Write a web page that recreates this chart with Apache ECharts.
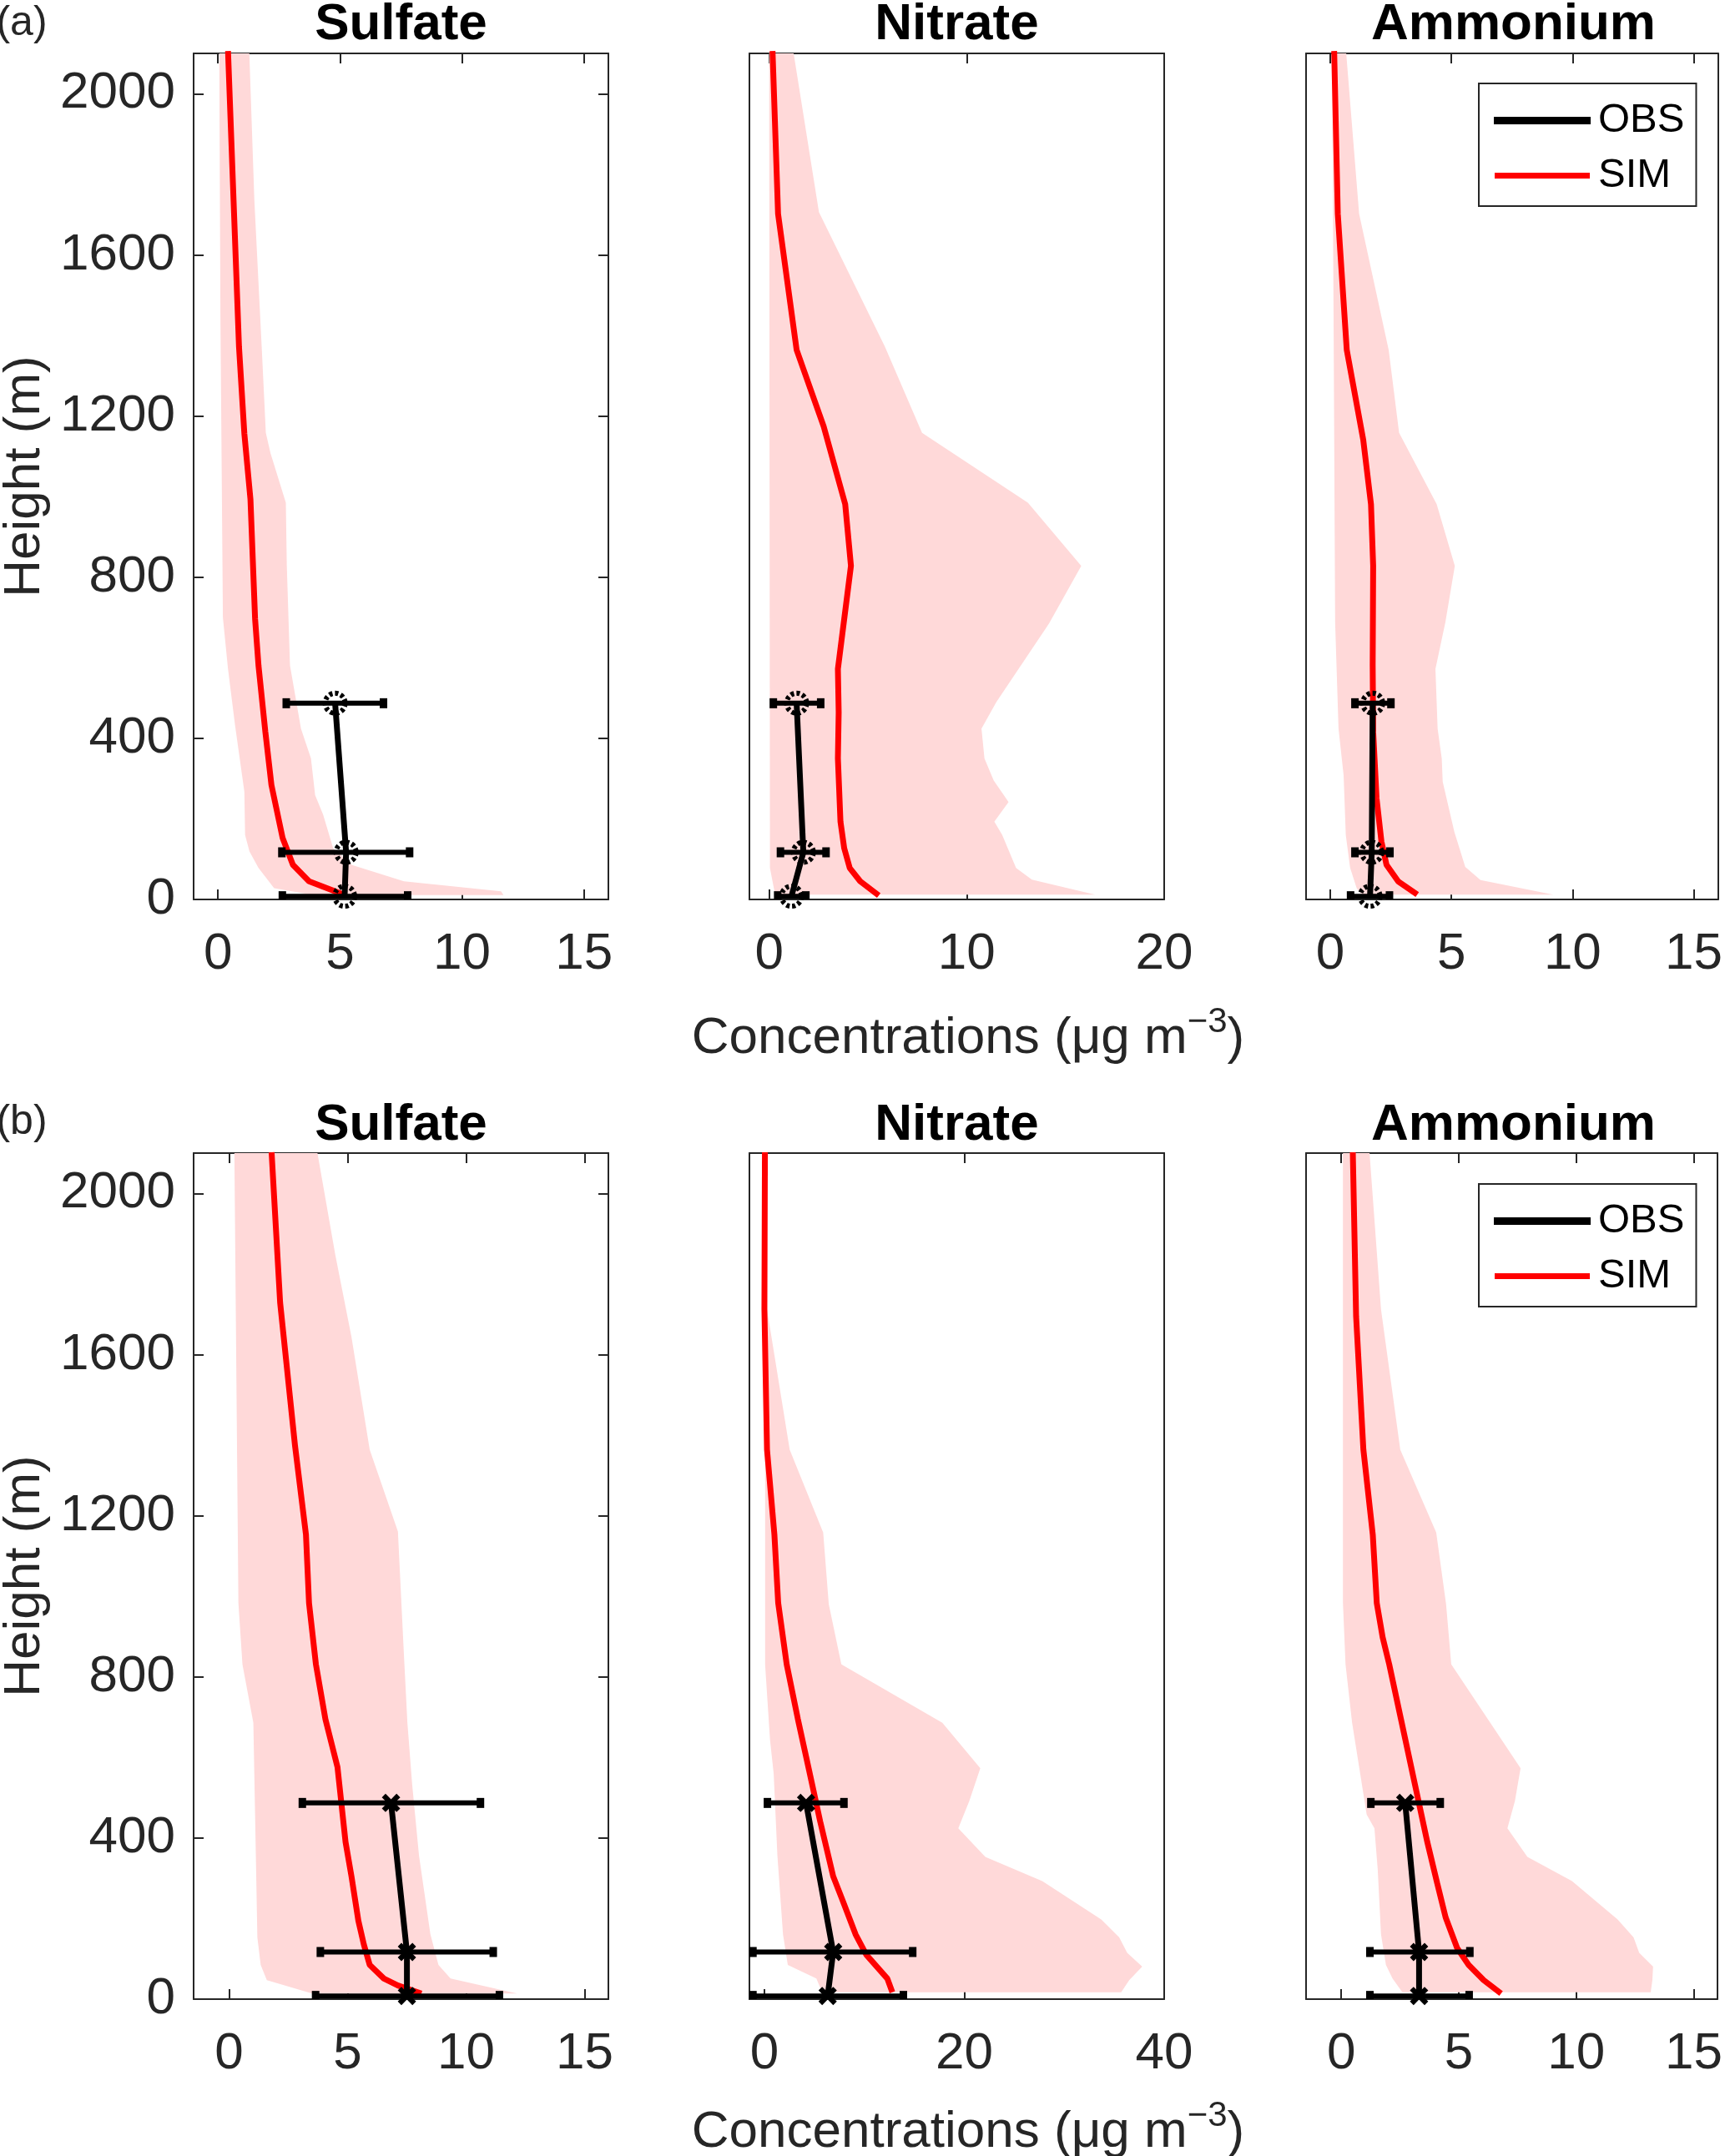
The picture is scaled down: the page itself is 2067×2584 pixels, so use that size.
<!DOCTYPE html>
<html>
<head>
<meta charset="utf-8">
<title>Vertical profiles of sulfate, nitrate and ammonium</title>
<script src="https://cdn.jsdelivr.net/npm/echarts@6/dist/echarts.min.js"></script>
<style>
  html, body { margin: 0; padding: 0; background: #fff; }
  #chart { width: 2067px; height: 2584px; }
</style>
</head>
<body>
<div id="chart"></div>
<script>
// ---------------- data ----------------
var species = ['Sulfate', 'Nitrate', 'Ammonium'];
var yTicks = [0, 400, 800, 1200, 1600, 2000];
var obsHeight = [487, 117, 8];

// (a) Sulfate
var aSO4_simH = [2106, 1372, 1156, 993, 696, 580, 416, 284, 152, 86, 45, 20, 11];
var aSO4_sim  = [0.41, 0.86, 1.08, 1.33, 1.52, 1.66, 1.94, 2.19, 2.65, 3.07, 3.73, 4.8, 5.2];
var aSO4_minH = [2106, 1440, 700, 572, 432, 267, 160, 119, 78, 28, 11];
var aSO4_min  = [0.05, 0.1, 0.2, 0.41, 0.7, 1.08, 1.11, 1.29, 1.66, 2.3, 3.9];
var aSO4_maxH = [2106, 1735, 1372, 1158, 1108, 985, 828, 581, 424, 350, 259, 210, 127, 86, 45, 20, 11];
var aSO4_max  = [1.28, 1.49, 1.79, 1.96, 2.15, 2.78, 2.82, 2.95, 3.4, 3.81, 3.98, 4.31, 4.72, 5.47, 7.62, 11.6, 11.7];
var aSO4_obs  = [4.8, 5.25, 5.19];
var aSO4_lo   = [2.78, 2.6, 2.62];
var aSO4_hi   = [6.8, 7.87, 7.79];

// (a) Nitrate
var aNO3_simH = [2106, 1702, 1364, 1174, 981, 828, 572, 465, 350, 193, 127, 78, 45, 10];
var aNO3_sim  = [0.17, 0.45, 1.39, 2.76, 3.85, 4.14, 3.48, 3.52, 3.48, 3.61, 3.8, 4.08, 4.61, 5.55];
var aNO3_minH = [2106, 78, 45, 12];
var aNO3_min  = [0.0, 0.04, 0.17, 0.3];
var aNO3_maxH = [2106, 1706, 1372, 1158, 985, 828, 685, 490, 424, 350, 295, 242, 193, 160, 78, 49, 12];
var aNO3_max  = [1.22, 2.52, 5.86, 7.74, 13.1, 15.8, 14.17, 11.5, 10.75, 10.9, 11.37, 12.12, 11.4, 11.8, 12.5, 13.3, 16.5];
var aNO3_obs  = [1.39, 1.73, 1.13];
var aNO3_lo   = [0.19, 0.55, 0.41];
var aNO3_hi   = [2.63, 2.9, 1.88];

// (a) Ammonium
var aNH4_simH = [2106, 1702, 1364, 1141, 981, 828, 581, 416, 251, 144, 86, 45, 12];
var aNH4_sim  = [0.16, 0.31, 0.68, 1.36, 1.68, 1.77, 1.75, 1.77, 1.91, 2.11, 2.32, 2.8, 3.59];
var aNH4_minH = [2106, 1400, 688, 424, 308, 160, 78, 28, 12];
var aNH4_min  = [0.07, 0.14, 0.2, 0.34, 0.55, 0.64, 0.82, 1.09, 1.3];
var aNH4_maxH = [2106, 1702, 1364, 1158, 981, 828, 688, 572, 424, 350, 292, 168, 81, 48, 12];
var aNH4_max  = [0.65, 1.19, 2.41, 2.84, 4.39, 5.14, 4.75, 4.34, 4.43, 4.6, 4.64, 5.12, 5.57, 6.2, 9.2];
var aNH4_obs  = [1.75, 1.71, 1.64];
var aNH4_lo   = [1.0, 1.0, 0.82];
var aNH4_hi   = [2.52, 2.48, 2.46];

// (b) Sulfate
var bSO4_simH = [2102, 1729, 1373, 1153, 983, 831, 695, 576, 390, 305, 195, 136, 85, 51, 34, 14];
var bSO4_sim  = [1.79, 2.15, 2.78, 3.24, 3.37, 3.66, 4.06, 4.57, 4.91, 5.16, 5.45, 5.68, 5.93, 6.53, 7.12, 8.11];
var bSO4_minH = [2102, 983, 831, 686, 407, 153, 85, 47, 14];
var bSO4_min  = [0.22, 0.39, 0.56, 1.02, 1.11, 1.19, 1.33, 1.59, 3.5];
var bSO4_maxH = [2102, 1847, 1644, 1364, 1161, 847, 686, 534, 356, 161, 85, 51, 14];
var bSO4_max  = [3.72, 4.48, 5.16, 5.93, 7.12, 7.38, 7.52, 7.72, 8.01, 8.49, 8.83, 9.34, 12.15];
var bSO4_obs  = [6.83, 7.5, 7.5];
var bSO4_lo   = [3.07, 3.83, 3.63];
var bSO4_hi   = [10.62, 11.16, 11.42];

// (b) Nitrate
var bNO3_simH = [2102, 1712, 1364, 1153, 983, 831, 695, 568, 441, 305, 246, 161, 110, 51, 17];
var bNO3_sim  = [0.05, 0.0, 0.26, 1.0, 1.38, 2.23, 3.35, 4.47, 5.58, 6.88, 7.81, 9.12, 10.2, 12.3, 12.8];
var bNO3_minH = [2102, 1712, 831, 644, 559, 356, 161, 85, 51, 17];
var bNO3_min  = [0.0, 0.07, 0.07, 0.56, 0.93, 1.3, 1.86, 2.34, 5.2, 5.77];
var bNO3_maxH = [2102, 1712, 1364, 1158, 980, 831, 686, 573, 492, 424, 353, 293, 198, 153, 115, 81, 47, 17];
var bNO3_max  = [0.2, 0.26, 2.53, 5.88, 6.44, 7.7, 17.8, 21.6, 20.5, 19.4, 22.1, 27.8, 33.7, 35.5, 36.3, 37.8, 36.5, 35.7];
var bNO3_obs  = [4.17, 6.88, 6.33];
var bNO3_lo   = [0.26, -1.19, -1.19];
var bNO3_hi   = [8.0, 14.88, 13.95];

// (b) Ammonium
var bNH4_simH = [2102, 1695, 1364, 1153, 983, 898, 831, 695, 542, 390, 288, 203, 127, 85, 47, 14];
var bNH4_sim  = [0.49, 0.63, 0.94, 1.34, 1.51, 1.76, 2.04, 2.54, 3.1, 3.66, 4.08, 4.44, 4.93, 5.42, 6.06, 6.8];
var bNH4_minH = [2102, 983, 831, 686, 458, 424, 322, 161, 85, 51, 17];
var bNH4_min  = [0.07, 0.07, 0.18, 0.46, 1.08, 1.41, 1.55, 1.69, 1.9, 2.18, 2.6];
var bNH4_maxH = [2102, 1712, 1364, 1158, 980, 831, 686, 573, 492, 424, 353, 293, 198, 153, 115, 81, 47, 17];
var bNH4_max  = [1.2, 1.69, 2.51, 4.04, 4.46, 4.68, 6.34, 7.63, 7.39, 7.07, 7.92, 9.82, 11.76, 12.44, 12.68, 13.27, 13.24, 13.17];
var bNH4_obs  = [2.72, 3.31, 3.31];
var bNH4_lo   = [1.24, 1.2, 1.2];
var bNH4_hi   = [4.23, 5.49, 5.46];

// x axis extents and ticks per panel
var xMin   = [-1, -1, -1, -1.5, -1.5, -1.5];
var xMax   = [16, 20, 16, 16, 40, 16];
var xTicks = [[0, 5, 10, 15], [0, 10, 20], [0, 5, 10, 15],
              [0, 5, 10, 15], [0, 20, 40], [0, 5, 10, 15]];

// ---------------- layout / style ----------------
var FONT = '"Liberation Sans", Arial, Helvetica, sans-serif';
var AXIS = '#262626';
var BAND = '#ffd9d9';
var gridLeft = [232, 898, 1565];
var gridTop = [64, 1382];
var gridW = 497, gridH = 1014;

var panels = [
  [aSO4_simH, aSO4_sim, aSO4_minH, aSO4_min, aSO4_maxH, aSO4_max, aSO4_obs, aSO4_lo, aSO4_hi],
  [aNO3_simH, aNO3_sim, aNO3_minH, aNO3_min, aNO3_maxH, aNO3_max, aNO3_obs, aNO3_lo, aNO3_hi],
  [aNH4_simH, aNH4_sim, aNH4_minH, aNH4_min, aNH4_maxH, aNH4_max, aNH4_obs, aNH4_lo, aNH4_hi],
  [bSO4_simH, bSO4_sim, bSO4_minH, bSO4_min, bSO4_maxH, bSO4_max, bSO4_obs, bSO4_lo, bSO4_hi],
  [bNO3_simH, bNO3_sim, bNO3_minH, bNO3_min, bNO3_maxH, bNO3_max, bNO3_obs, bNO3_lo, bNO3_hi],
  [bNH4_simH, bNH4_sim, bNH4_minH, bNH4_min, bNH4_maxH, bNH4_max, bNH4_obs, bNH4_lo, bNH4_hi]
];

function pairs(xs, hs) {
  return xs.map(function (v, i) { return [v, hs[i]]; });
}
function plain(v) { return String(v); }

var grids = [], xAxes = [], yAxes = [], series = [];

panels.forEach(function (p, k) {
  var row = k < 3 ? 0 : 1, col = k % 3;
  grids.push({ left: gridLeft[col], top: gridTop[row], width: gridW, height: gridH });

  var line = { show: true, onZero: false, lineStyle: { color: AXIS, width: 2 } };
  var tick = function (vals) {
    return { show: vals.length > 0, inside: true, length: 12, customValues: vals,
             lineStyle: { color: AXIS, width: 2 } };
  };
  // bottom + top x axes
  xAxes.push({ type: 'value', gridIndex: k, position: 'bottom', min: xMin[k], max: xMax[k],
    axisLine: line, axisTick: tick(xTicks[k]), splitLine: { show: false },
    axisLabel: { show: true, customValues: xTicks[k], margin: 35, fontSize: 62,
                 fontFamily: FONT, color: AXIS, formatter: plain } });
  xAxes.push({ type: 'value', gridIndex: k, position: 'top', min: xMin[k], max: xMax[k],
    axisLine: line, axisTick: tick(xTicks[k]), splitLine: { show: false },
    axisLabel: { show: false } });
  // left + right y axes (ticks only on the sulfate panels)
  var yt = col === 0 ? yTicks : [];
  yAxes.push({ type: 'value', gridIndex: k, position: 'left', min: 0, max: 2100,
    axisLine: line, axisTick: tick(yt), splitLine: { show: false },
    axisLabel: { show: col === 0, customValues: yTicks, margin: 22, fontSize: 62,
                 fontFamily: FONT, color: AXIS, formatter: plain } });
  yAxes.push({ type: 'value', gridIndex: k, position: 'right', min: 0, max: 2100,
    axisLine: line, axisTick: tick(yt), splitLine: { show: false },
    axisLabel: { show: false } });

  var xi = 2 * k, yi = 2 * k;

  // min-max envelope of the simulation as a polygon
  var poly = pairs(p[3], p[2]).concat(pairs(p[5], p[4]).reverse());
  series.push({
    name: 'SIM range', type: 'custom', xAxisIndex: xi, yAxisIndex: yi, clip: true, z: 1,
    silent: true, data: poly,
    renderItem: function (params, api) {
      if (params.dataIndex !== 0) return null;
      var pts = poly.map(function (d) { return api.coord(d); });
      return { type: 'polygon', shape: { points: pts }, style: { fill: BAND } };
    }
  });

  series.push({
    name: 'SIM', type: 'line', xAxisIndex: xi, yAxisIndex: yi, z: 2,
    data: pairs(p[1], p[0]), showSymbol: false, symbol: 'none',
    itemStyle: { color: '#ff0000' }, lineStyle: { color: '#ff0000', width: 7 }
  });

  // observation error bars
  var bars = p[7].map(function (lo, i) { return [lo, p[8][i], obsHeight[i]]; });
  series.push({
    name: 'OBS range', type: 'custom', xAxisIndex: xi, yAxisIndex: yi, clip: true, z: 3,
    silent: true, data: bars, encode: { x: [0, 1], y: 2 },
    renderItem: function (params, api) {
      var a = api.coord([api.value(0), api.value(2)]);
      var b = api.coord([api.value(1), api.value(2)]);
      return { type: 'group', children: [
        { type: 'line', shape: { x1: a[0], y1: a[1], x2: b[0], y2: b[1] },
          style: { stroke: '#000', lineWidth: 6 } },
        { type: 'rect', shape: { x: a[0] - 4, y: a[1] - 6, width: 9, height: 12 }, style: { fill: '#000' } },
        { type: 'rect', shape: { x: b[0] - 5, y: b[1] - 6, width: 9, height: 12 }, style: { fill: '#000' } }
      ] };
    }
  });

  series.push({
    name: 'OBS', type: 'line', xAxisIndex: xi, yAxisIndex: yi, z: 4,
    data: pairs(p[6], obsHeight),
    lineStyle: { color: '#000', width: 7 },
    symbol: row === 0 ? 'circle' : 'path://M2,0L5,3L8,0L10,2L7,5L10,8L8,10L5,7L2,10L0,8L3,5L0,2Z',
    symbolSize: row === 0 ? 24 : 22,
    itemStyle: row === 0
      ? { color: 'rgba(0,0,0,0)', borderColor: '#000', borderWidth: 6, borderType: [4, 3] }
      : { color: '#000' }
  });
});

// ---------------- texts ----------------
var graphics = [];
function txt(s, x, y, size, weight, color, rot) {
  graphics.push({ type: 'text', x: x, y: y, rotation: rot || 0, silent: true,
    style: { text: s, fontSize: size, fontWeight: weight, fontFamily: FONT, fill: color,
             align: 'center', verticalAlign: 'middle' } });
}
txt('(a)', 26, 28, 50, 'normal', AXIS);
txt('(b)', 26, 1345, 50, 'normal', AXIS);
[0, 1].forEach(function (row) {
  species.forEach(function (s, col) {
    txt(s, gridLeft[col] + gridW / 2, row === 0 ? 30 : 1349, 62, 'bold', '#000');
  });
  txt('Height (m)', 30, gridTop[row] + gridH / 2, 62, 'normal', AXIS, Math.PI / 2);
  graphics.push({ type: 'text', x: 1160, y: row === 0 ? 1240 : 2551, silent: true,
    style: { text: '{n|Concentrations (\u03bcg m}{s|\u22123}{n|)}',
             align: 'center', verticalAlign: 'middle', fill: AXIS,
             rich: { n: { fontSize: 62, fontFamily: FONT, fill: AXIS, lineHeight: 72, verticalAlign: 'bottom' },
                     s: { fontSize: 42, fontFamily: FONT, fill: AXIS, verticalAlign: 'top' } } } });
});

var legends = [100, 1419].map(function (top) {
  return { left: 1772, top: top, orient: 'vertical', icon: 'rect', itemWidth: 114, itemHeight: 7,
    itemGap: 17, padding: [20, 14, 12, 18], borderColor: AXIS, borderWidth: 2,
    backgroundColor: '#fff', selectedMode: false,
    textStyle: { fontSize: 49, color: '#000', fontFamily: FONT, padding: [0, 0, 0, 5] },
    data: [{ name: 'OBS', itemStyle: { color: '#000' } },
           { name: 'SIM', itemStyle: { color: '#ff0000' } }] };
});

var chart = echarts.init(document.getElementById('chart'));
chart.setOption({
  animation: false,
  backgroundColor: '#fff',
  grid: grids,
  xAxis: xAxes,
  yAxis: yAxes,
  legend: legends,
  graphic: graphics,
  series: series
});
</script>
</body>
</html>
